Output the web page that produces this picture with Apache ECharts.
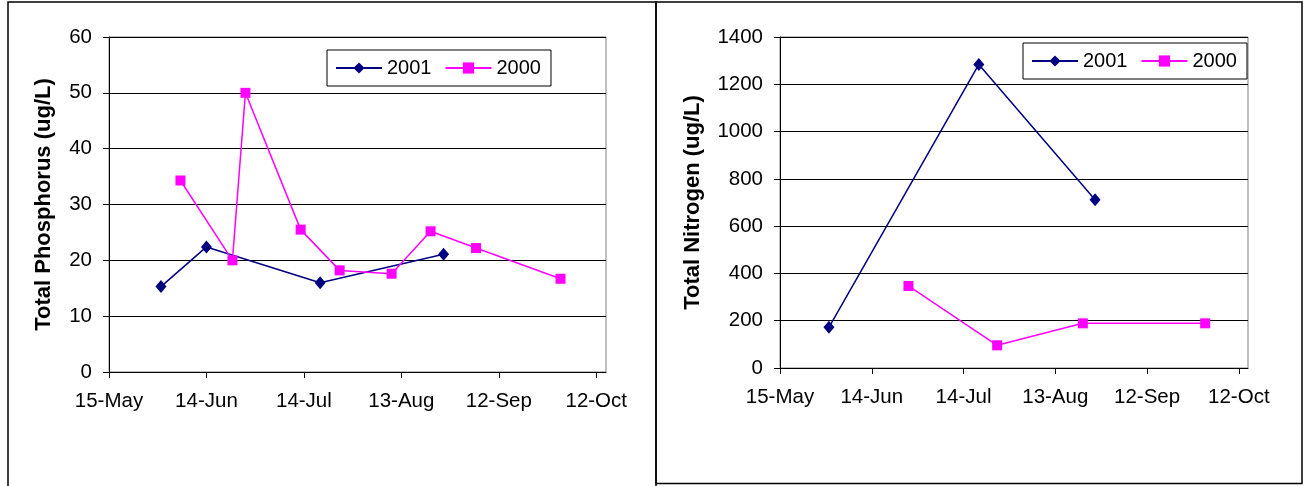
<!DOCTYPE html>
<html>
<head>
<meta charset="utf-8">
<script src="https://cdn.jsdelivr.net/npm/echarts@6/dist/echarts.min.js"></script>
<style>
    html, body {margin: 0; padding: 0; background: #fff;}
    #main {width: 1309px; height: 486px;}
</style>
</head>
<body>
<div id="main"></div>
<script>
// sampling dates (month-day) and values
var tpDates2001 = ['05-31', '06-14', '07-19', '08-26'];
var tpValues2001 = [15.3, 22.4, 16.0, 21.1];
var tpDates2000 = ['06-06', '06-22', '06-26', '07-13', '07-25', '08-10', '08-22', '09-05', '10-01'];
var tpValues2000 = [34.3, 20.0, 50.0, 25.5, 18.2, 17.6, 25.2, 22.2, 16.7];

var tnDates2001 = ['05-31', '07-19', '08-26'];
var tnValues2001 = [172, 1284, 712];
var tnDates2000 = ['06-26', '07-25', '08-22', '10-01'];
var tnValues2000 = [347, 96, 189, 189];

var xTickDays = [0, 30, 60, 90, 120, 150];
var xTickLabels = ['15-May', '14-Jun', '14-Jul', '13-Aug', '12-Sep', '12-Oct'];

var FONT = '"Liberation Sans", Arial, sans-serif';

// days after 15-May
function dayOffset(md) {
    let p = md.split('-');
    let t = Date.UTC(2001, parseInt(p[0], 10) - 1, parseInt(p[1], 10));
    return Math.round((t - Date.UTC(2001, 4, 15)) / 86400000);
}
function pairs(dates, values) {
    let out = [];
    for (let i = 0; i < dates.length; i++) {
        out.push([dayOffset(dates[i]), values[i]]);
    }
    return out;
}

function xAxisOf(gridIndex) {
    return {
        type: 'value', gridIndex: gridIndex, min: 0, max: 153,
        axisLine: {show: true, lineStyle: {color: '#000', width: 1}},
        axisTick: {show: true, inside: false, length: 6, lineStyle: {color: '#000'}, customValues: xTickDays},
        axisLabel: {
            customValues: xTickDays, color: '#000', fontSize: 20.5, fontFamily: FONT, margin: 19,
            formatter: function (v) {
                let i = xTickDays.indexOf(v);
                return i >= 0 ? xTickLabels[i] : '';
            }
        },
        splitLine: {show: false}
    };
}
function yAxisOf(gridIndex, max, interval, name, gap) {
    return {
        type: 'value', gridIndex: gridIndex, min: 0, max: max, interval: interval,
        name: name, nameLocation: 'middle', nameRotate: 90, nameGap: gap,
        nameTextStyle: {fontSize: 22, fontWeight: 'bold', color: '#000', fontFamily: FONT},
        axisLine: {show: true, lineStyle: {color: '#000', width: 1}},
        axisTick: {show: true, inside: false, length: 6, lineStyle: {color: '#000'}},
        axisLabel: {
            color: '#000', fontSize: 20.5, fontFamily: FONT, margin: 17,
            formatter: function (v) { return String(v); }
        },
        splitLine: {show: true, lineStyle: {color: '#000', width: 1}}
    };
}
function legendOf(left, top) {
    return {
        left: left, top: top, orient: 'horizontal',
        data: ['2001', '2000'],
        itemWidth: 46, itemHeight: 14, itemGap: 13,
        padding: [8, 10, 8, 8],
        borderColor: '#000', borderWidth: 1, backgroundColor: '#fff',
        textStyle: {fontSize: 20, color: '#000', fontFamily: FONT},
        selectedMode: false
    };
}
function seriesOf(name, gridIdx, data) {
    let is01 = name === '2001';
    let color = is01 ? '#000080' : '#ff00ff';
    return {
        name: name, type: 'line', xAxisIndex: gridIdx, yAxisIndex: gridIdx,
        data: data,
        symbol: is01 ? 'diamond' : 'rect',
        symbolSize: is01 ? [11, 13] : [10, 10],
        showAllSymbol: true,
        itemStyle: {color: color},
        lineStyle: {color: color, width: 1.5},
        animation: false
    };
}

var option = {
    animation: false,
    backgroundColor: '#fff',
    grid: [
        {left: 109, top: 37, width: 497, height: 335, show: true, borderColor: '#808080', borderWidth: 1, backgroundColor: 'transparent'},
        {left: 780, top: 37, width: 468, height: 331, show: true, borderColor: '#808080', borderWidth: 1, backgroundColor: 'transparent'}
    ],
    xAxis: [xAxisOf(0), xAxisOf(1)],
    yAxis: [
        yAxisOf(0, 60, 10, 'Total Phosphorus (ug/L)', 54),
        yAxisOf(1, 1400, 200, 'Total Nitrogen (ug/L)', 76)
    ],
    legend: [legendOf(327, 50), legendOf(1023, 43)],
    series: [
        seriesOf('2001', 0, pairs(tpDates2001, tpValues2001)),
        seriesOf('2000', 0, pairs(tpDates2000, tpValues2000)),
        seriesOf('2001', 1, pairs(tnDates2001, tnValues2001)),
        seriesOf('2000', 1, pairs(tnDates2000, tnValues2000))
    ],
    graphic: [
        {type: 'rect', silent: true, z: 100, shape: {x: 8, y: 2, width: 648, height: 520}, style: {fill: 'none', stroke: '#000', lineWidth: 1.5}},
        {type: 'rect', silent: true, z: 100, shape: {x: 656, y: 2, width: 646, height: 481.5}, style: {fill: 'none', stroke: '#000', lineWidth: 1.5}}
    ]
};

var chart = echarts.init(document.getElementById('main'));
chart.setOption(option);
</script>
</body>
</html>
